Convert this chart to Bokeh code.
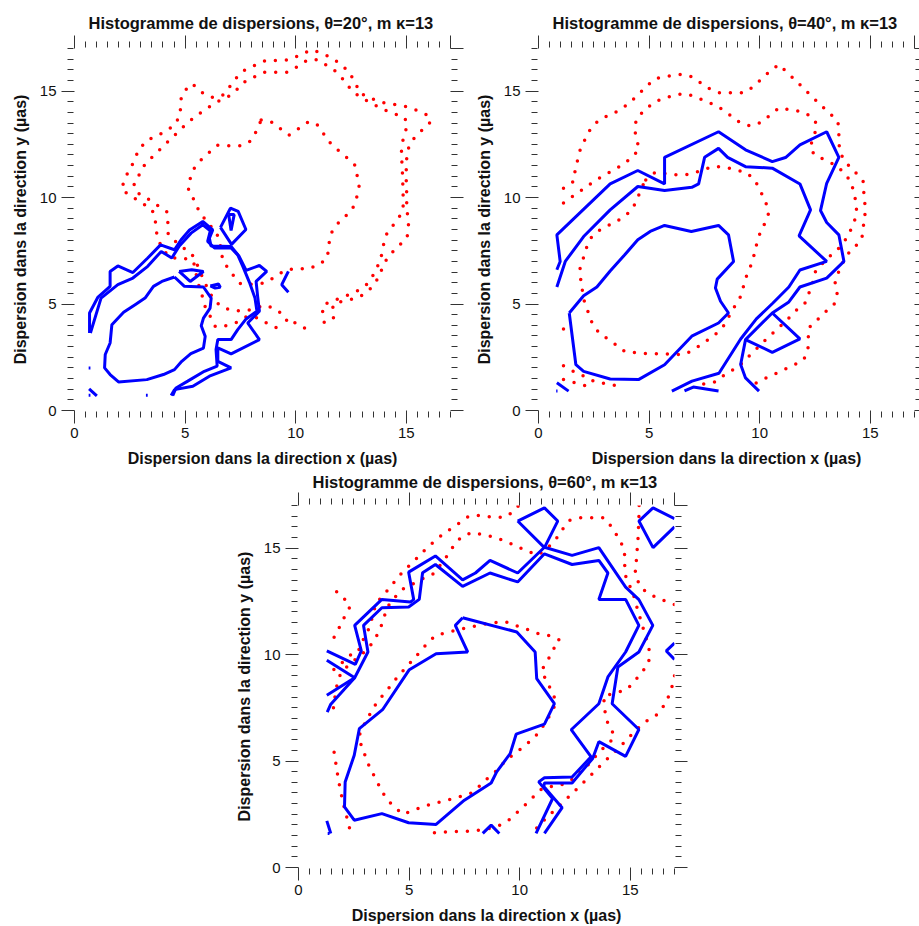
from bokeh.plotting import figure
from bokeh.models import Range1d, FixedTicker, LinearAxis
from bokeh.layouts import column, row
from bokeh.embed import file_html
from bokeh.resources import INLINE

FONT = "Liberation Sans"
MAJOR_TICKS = [0, 5, 10, 15]
EDGE_TICKS = [0, 5, 10, 15, 17]
MINOR_TICKS = [i * 0.5 for i in range(1, 34) if (i * 0.5) % 5 != 0]
X_LABEL = "Dispersion dans la direction x (µas)"
Y_LABEL = "Dispersion dans la direction y (µas)"
TITLES = ["Histogramme de dispersions, θ=20°, m ᴋ=13",
          "Histogramme de dispersions, θ=40°, m ᴋ=13",
          "Histogramme de dispersions, θ=60°, m ᴋ=13"]

# ---------------- panel 1 (theta = 20) ----------------
P1_RED_OUTER_A = [(6.36,3.96),(6.13,4.43),(5.88,4.93),(5.76,5.44),(5.6,5.94),(5.48,6.49),(5.38,7.0),(4.93,7.16),(4.4,7.16),(4.07,7.47),(3.8,7.97),(3.68,8.49),(3.65,8.99),(3.5,9.45),(3.04,9.74),(2.59,10.05),(2.14,10.36),(2.23,10.78),(2.45,11.25),(2.71,11.73),(2.86,12.16),(3.24,12.67),(3.72,12.9),(4.22,13.16),(4.6,13.51),(4.79,13.98),(4.78,14.52),(4.94,14.97),(5.32,15.35),(5.72,14.96),(6.18,14.71),(6.67,14.77),(7.0,15.18),(7.33,15.63),(7.7,15.99),(8.18,16.22),(8.66,16.44),(9.19,16.44),(9.72,16.47),(10.21,16.7),(10.7,16.94),(11.18,16.78),(11.64,16.55),(12.1,16.22),(12.46,15.83),(12.7,15.36),(12.94,14.89),(13.41,14.66),(13.9,14.47),(14.43,14.38),(14.96,14.28),(15.49,14.09),(15.97,13.86),(16.12,13.57),(15.74,13.19),(15.36,12.8),(15.11,12.35),(15.02,11.83),(15.0,11.3),(15.0,10.73),(15.02,10.2),(15.02,9.67),(15.06,9.14),(15.11,8.6),(15.03,8.1),(14.64,7.72),(14.28,7.34),(13.98,6.89),(13.81,6.39),(13.56,5.92),(13.2,5.53),(12.76,5.27),(12.23,5.16),(11.72,5.02),(11.63,4.61),(11.78,4.11)]
P1_RED_OUTER_B = [(10.4,3.87),(9.93,4.14),(9.67,4.06),(9.49,4.45),(9.07,4.78),(8.6,4.95),(8.09,4.76),(7.61,4.67),(7.11,4.70),(6.62,4.89),(6.28,5.24),(6.03,5.7),(5.8,6.22),(5.6,6.72),(5.38,7.24),(5.0,7.58),(4.58,7.92),(4.22,8.33),(4.22,8.83),(4.17,9.34),(3.72,9.66),(3.27,9.97),(2.82,10.24),(2.68,10.67),(2.94,11.09),(3.19,11.58),(3.57,11.96),(3.96,12.35),(4.34,12.74),(4.71,13.11),(5.09,13.49),(5.5,13.84),(5.92,14.14),(6.39,14.47),(6.89,14.69),(7.28,15.0),(7.61,15.39),(8.11,15.66),(8.59,15.89),(9.12,15.89),(9.66,15.89),(10.11,16.17),(10.55,16.47),(11.0,16.47),(11.46,16.17),(11.9,15.86),(12.23,15.44),(12.55,15.0),(12.95,14.69),(13.44,14.42),(13.91,14.16),(14.4,13.95),(14.91,13.78),(15.06,13.44),(14.91,12.94),(14.78,12.39),(14.79,11.88),(14.82,11.33),(14.84,10.8),(14.85,10.25),(14.88,9.69),(14.76,9.21),(14.46,8.77),(14.13,8.33),(13.98,7.82),(13.89,7.32),(13.71,6.79),(13.47,6.29),(13.18,5.88),(12.73,5.58),(12.21,5.36),(11.72,5.16),(11.22,4.95),(11.22,4.48),(11.33,3.95)]
P1_RED_OUTER_C = [(6.84,3.98),(7.34,4.14),(7.82,4.43),(8.29,4.35),(8.7,4.1),(9.16,3.87)]
P1_RED_INNER = [(8.44,13.64),(8.84,13.6),(9.26,13.27),(9.69,12.93),(10.11,13.22),(10.54,13.53),(10.92,13.5),(11.22,13.06),(11.52,12.61),(11.91,12.23),(12.31,11.88),(12.7,11.5),(12.79,10.97),(12.88,10.44),(12.73,9.92),(12.55,9.41),(12.17,9.05),(11.8,8.67),(11.54,8.2),(11.5,7.67),(11.42,7.14),(11.0,6.81),(10.51,6.64),(10.0,6.67),(9.49,6.57),(9.06,6.26),(8.58,5.98),(8.06,5.93),(7.52,5.94),(7.34,6.14),(7.01,6.58),(6.71,7.03),(6.62,7.55),(6.55,8.08),(6.28,8.51),(5.95,8.92),(5.63,9.36),(5.42,9.86),(5.15,10.33),(5.2,10.8),(5.38,11.33),(5.7,11.75),(6.07,12.1),(6.48,12.46),(6.99,12.43),(7.53,12.43),(8.0,12.68),(8.24,13.16),(8.44,13.64)]

P1_BLUE_INNER = [(4.52,6.27),(4.97,5.83),(5.83,5.80),(6.18,5.28),(6.13,4.81),(5.83,4.34),(5.73,3.98),(5.91,3.48),(5.83,2.93),(5.26,2.67),(4.85,2.31),(4.52,1.92),(4.02,1.69),(3.27,1.45),(1.99,1.34),(1.61,1.69),(1.36,2.0),(1.39,2.63),(1.61,3.17),(1.69,4.03),(2.22,4.61),(2.74,4.97),(3.19,5.28),(3.57,5.83),(3.95,6.06),(4.52,6.27)]
P1_BLUE_OUTER_A = [(0.68,3.64),(0.68,4.58),(1.05,5.31),(1.61,5.83),(1.61,6.53),(1.96,6.79),(2.64,6.48),(3.31,7.16),(3.89,7.78),(4.52,7.55),(4.82,8.02),(5.2,8.48),(5.8,8.88),(6.25,8.48),(6.1,8.09),(6.17,7.73),(7.08,7.70),(7.45,7.23),(7.76,6.58),(8.36,6.81),(8.69,6.53),(8.21,6.06),(8.28,5.36),(8.36,4.66),(7.83,4.11),(8.36,3.33),(7.08,2.66),(6.48,2.94),(6.48,2.31),(7.08,2.0),(6.1,1.61),(5.35,1.14),(4.52,0.98),(4.37,0.70)]
P1_BLUE_OUTER_B = [(0.72,3.64),(1.2,5.28),(1.96,5.91),(2.64,6.22),(3.31,6.77),(3.92,7.47),(4.4,7.16),(4.74,7.73),(5.27,8.33),(5.8,8.72),(6.14,8.44),(6.02,7.94),(6.33,7.63),(7.08,7.63),(7.38,7.31),(7.61,6.77),(7.91,6.02),(8.16,5.28),(8.25,4.66),(7.76,4.30),(7.38,3.8),(7.08,3.33),(6.48,3.33),(6.4,2.86),(6.45,2.08),(5.87,1.84),(5.12,1.38),(4.59,1.06),(4.44,0.70)]
P1_BLUE_SPIKE = [(6.6,8.6),(7.05,9.5),(7.4,9.35),(7.75,8.5),(7.1,7.8),(6.6,8.6)]
P1_BLUE_NOTCH = [(6.97,9.2),(7.08,8.45),(7.22,9.2),(6.97,9.2)]
P1_BLUE_SMALL = [(4.73,6.53),(5.23,6.06),(5.83,6.53),(5.30,6.61),(4.73,6.53)]
P1_BLUE_TINY = [(6.14,5.85),(6.51,5.94),(6.59,5.79),(6.36,5.75),(6.14,5.85)]
P1_BLUE_CHEVRON = [(9.67,6.53),(9.37,5.91),(9.67,5.55)]
P1_BLUE_EDGE = [(0.66,1.02),(1.01,0.69)]
P1_BLUE_DOT_A = [(0.64,2.0),(0.72,2.0)]
P1_BLUE_DOT_B = [(0.64,0.72),(0.72,0.72)]
P1_BLUE_DOT_C = [(3.23,0.72),(3.31,0.72)]

# ---------------- panel 2 (theta = 40) ----------------
P2_RED_OUTER_A = [(1.13,10.44),(1.58,10.75),(1.66,11.3),(1.78,11.81),(1.9,12.31),(2.14,12.8),(2.38,13.28),(2.74,13.64),(3.23,13.89),(3.71,14.12),(4.13,14.47),(4.52,14.84),(4.85,15.2),(5.28,15.59),(5.82,15.7),(6.35,15.78),(6.84,15.72),(7.3,15.41),(7.75,15.1),(8.22,14.91),(8.76,14.92),(9.29,14.92),(9.71,15.2),(10.12,15.6),(10.49,15.96),(10.87,16.25),(11.25,15.86),(11.64,15.49),(12.02,15.09),(12.38,14.73),(12.77,14.33),(13.16,13.97),(13.54,13.56),(13.58,13.05),(13.58,12.52),(13.69,12.0),(13.96,11.58),(14.34,11.17),(14.68,10.75),(14.71,10.21),(14.76,9.67),(14.76,9.14),(14.68,8.6),(14.62,8.07),(14.29,7.66),(13.92,7.28),(13.6,6.6),(13.4,5.95),(13.51,5.44),(13.36,4.97),(12.95,4.61),(12.57,4.22),(12.2,3.86),(12.2,3.33),(12.18,2.78),(11.97,2.36),(11.52,2.13),(11.02,1.88),(10.54,1.64),(10.04,1.41),(9.59,1.14)]
P2_RED_OUTER_B = [(1.13,9.74),(1.58,10.08),(2.0,10.38),(2.44,10.71),(2.86,10.99),(3.35,11.27),(3.83,11.55),(4.22,11.88),(4.55,12.27),(4.43,12.77),(4.33,13.28),(4.46,13.75),(4.82,14.12),(5.22,14.48),(5.71,14.67),(6.23,14.84),(6.75,14.86),(7.25,14.66),(7.75,14.45),(8.23,14.19),(8.65,13.88),(9.07,13.55),(9.56,13.36),(10.04,13.52),(10.46,13.86),(10.87,14.21),(11.4,14.11),(11.93,14.03),(12.38,13.77),(12.6,13.41),(12.45,12.86),(12.27,12.36),(12.48,12.0),(12.94,11.77),(13.43,11.52),(13.81,11.17),(14.14,10.72),(14.26,10.2),(14.38,9.69),(14.37,9.15),(14.19,8.64),(13.96,8.14),(13.66,7.7),(13.28,7.35),(12.9,6.97),(12.53,6.56),(12.41,6.03),(12.23,5.52),(12.05,5.05),(11.65,4.7),(11.28,4.3),(10.88,3.9),(10.49,3.53),(10.1,3.15),(9.74,2.78),(9.36,2.39),(8.98,2.0),(8.5,1.76),(8.08,1.37),(7.57,1.26),(7.06,1.16)]
P2_RED_INNER = [(4.85,10.83),(5.28,11.19),(5.82,11.11),(6.35,11.06),(6.87,11.09),(7.36,11.27),(7.87,11.46),(8.38,11.43),(8.94,11.3),(9.44,11.15),(9.81,10.76),(10.04,10.29),(10.27,9.79),(10.42,9.31),(10.24,8.81),(10.01,8.31),(9.86,7.8),(9.74,7.28),(9.59,6.78),(9.41,6.33),(9.26,5.8),(9.11,5.29),(8.83,4.82),(8.55,4.3),(8.3,3.85),(7.93,3.52),(7.51,3.2),(7.06,2.89),(6.6,2.63),(6.06,2.64),(5.53,2.66),(4.98,2.67),(4.46,2.71),(3.92,2.75),(3.59,3.02),(3.17,3.33),(2.74,3.64),(2.44,4.06),(2.26,4.58),(2.08,5.08),(1.99,5.59),(1.91,6.14),(1.88,6.67),(2.04,7.2),(2.19,7.71),(2.41,8.17),(2.83,8.52),(3.32,8.77),(3.77,9.03),(4.19,9.39),(4.46,9.89),(4.61,10.36),(4.85,10.83)]
P2_RED_LOW_A = [(1.13,2.1),(1.58,1.84),(2.11,1.58),(2.56,1.34),(3.09,1.25),(3.62,1.14)]
P2_RED_LOW_B = [(1.13,1.46),(1.66,1.3),(2.19,1.14)]
P2_RED_DOT = [(1.13,3.83),(1.13,3.84)]

P2_BLUE_INNER = [(1.39,4.58),(2.04,5.39),(2.64,5.8),(3.24,6.55),(3.89,7.3),(4.49,8.02),(5.05,8.41),(5.7,8.69),(6.91,8.41),(8.14,8.69),(8.59,8.25),(8.82,7.0),(8.08,6.17),(8.0,5.75),(8.23,5.13),(8.59,4.58),(8.14,4.11),(6.93,3.49),(5.7,2.15),(4.52,1.45),(3.24,1.48),(2.04,1.84),(1.69,2.15),(1.39,4.58)]
P2_BLUE_OUTER_A = [(0.83,6.61),(0.98,7.0),(0.83,8.25),(3.24,10.64),(4.49,11.27),(5.7,10.64),(5.7,11.89),(8.14,13.09),(9.36,12.24),(10.57,11.69),(11.17,11.88),(11.82,12.47),(13.03,13.09),(13.58,11.89),(13.03,10.67),(12.75,9.39),(13.03,8.83),(13.58,8.25),(13.81,7.0),(13.03,6.22),(11.82,5.8),(11.32,5.1),(10.57,4.58),(9.36,3.33),(9.14,2.16),(9.36,1.53),(9.97,0.91)]
P2_BLUE_OUTER_B = [(0.83,5.8),(1.21,7.0),(2.04,8.17),(3.24,9.42),(4.49,10.52),(5.7,10.33),(6.93,10.48),(7.24,10.64),(7.51,11.89),(8.14,12.31),(8.55,11.89),(9.36,11.45),(10.57,11.38),(11.82,10.64),(12.3,9.42),(11.78,8.2),(13.03,7.0),(11.82,6.6),(11.32,5.8),(10.6,5.05),(9.85,4.3),(9.14,3.36),(8.16,1.75),(6.94,1.38),(6.03,0.91)]
P2_BLUE_DIAMOND = [(10.57,4.58),(11.82,3.36),(10.57,2.73),(9.36,3.33)]
P2_BLUE_BOTTOM = [(6.6,0.92),(7.0,1.1),(8.14,0.92)]
P2_BLUE_EDGE = [(0.83,1.3),(1.36,0.91)]
P2_BLUE_DOT = [(0.8,0.91),(0.86,0.91)]

# ---------------- panel 3 (theta = 60) ----------------
P3_RED_INNER = [(11.77,10.7),(11.42,10.87),(10.86,10.98),(10.37,11.17),(9.87,11.35),(9.34,11.55),(8.81,11.49),(8.3,11.42),(7.77,11.29),(7.24,11.17),(6.71,11.03),(6.19,10.9),(5.81,10.51),(5.46,10.09),(5.13,9.7),(4.77,9.29),(4.42,8.87),(4.1,8.45),(3.74,8.0),(3.44,7.59),(3.17,7.1),(2.91,6.6),(2.72,6.13),(2.87,5.63),(3.06,5.13),(3.24,4.63),(3.5,4.16),(3.73,3.65),(4.01,3.18),(4.38,2.81),(4.71,2.5),(5.21,2.69),(5.7,2.88),(6.22,3.03),(6.73,3.16),(7.24,3.31),(7.77,3.47),(8.18,3.82),(8.56,4.2),(8.97,4.56),(9.31,4.96),(9.72,5.32),(10.14,5.63),(10.56,6.01),(10.92,6.4),(11.17,6.84),(11.47,7.31),(11.65,7.78),(11.45,8.28),(11.19,8.79),(10.99,9.26),(11.27,9.73),(11.5,10.2),(11.77,10.7)]
P3_RED_LEFT_TOP = [(1.61,10.81),(1.86,11.3),(2.08,11.77),(2.34,12.27),(2.04,12.66),(1.63,13.04)]
P3_RED_OUTER_A = [(1.6,9.3),(2.0,9.65),(2.38,10.0),(2.69,10.1),(2.79,10.4),(3.02,10.9),(3.24,11.33),(3.35,11.84),(3.5,12.39),(3.85,12.81),(4.18,13.2),(4.5,13.64),(4.86,14.03),(5.25,14.42),(5.61,14.81),(6.01,15.2),(6.41,15.55),(6.82,15.86),(7.29,16.19),(7.71,16.5),(8.21,16.53),(8.78,16.45),(9.31,16.45),(9.76,16.74),(9.95,17.0)]
P3_RED_OUTER_A2 = [(15.4,17.0),(15.39,16.4),(15.35,15.44),(15.31,14.9),(15.27,14.35),(15.22,13.8),(15.42,13.25),(15.72,12.93),(16.2,12.67),(16.7,12.47),(17.0,12.35)]
P3_RED_OUTER_A3 = [(17.0,9.0),(16.85,8.33),(16.6,7.72),(16.25,7.2),(15.84,6.96),(15.42,6.61),(15.04,6.22),(14.7,5.85),(14.33,5.46),(13.91,5.05),(13.53,4.66),(13.16,4.27),(12.78,3.89),(12.4,3.5),(12.03,3.13),(11.65,2.76),(11.28,2.4),(10.87,1.97),(10.6,1.65)]
P3_RED_OUTER_B = [(1.58,7.5),(1.66,8.1),(1.74,8.57),(1.9,9.1),(2.3,9.55),(2.8,9.95),(3.2,10.35),(3.47,10.75),(3.7,11.22),(3.85,11.68),(4.0,12.2),(4.33,12.66),(4.68,13.06),(5.15,13.3),(5.61,13.56),(6.11,13.8),(6.45,14.25),(6.75,14.68),(7.03,15.13),(7.36,15.52),(7.85,15.73),(8.37,15.63),(8.9,15.49),(9.38,15.31),(9.88,15.08),(10.37,14.84),(10.85,14.68),(11.25,15.0),(11.62,15.39),(11.92,15.86),(12.25,16.3),(12.74,16.42),(13.26,16.42),(13.81,16.42),(14.14,16.02),(14.4,15.59),(14.64,15.13),(14.75,14.66),(14.75,14.11),(14.82,13.49),(15.09,13.02),(15.25,12.4),(15.45,11.7),(15.65,11.0),(15.85,10.3),(15.84,9.6),(15.4,9.0),(14.85,8.35),(14.32,8.2),(13.79,8.04),(13.85,7.5),(13.88,6.99),(14.14,6.52),(14.29,6.1),(13.88,5.71),(13.5,5.3),(13.08,4.8),(12.65,4.4),(12.25,4.03),(11.8,3.85),(11.4,3.8),(11.04,3.74),(10.66,3.36),(10.28,2.97),(9.91,2.61),(9.53,2.25),(9.1,1.99),(8.57,1.81),(8.04,1.74),(7.51,1.69),(6.97,1.69),(6.44,1.66),(5.88,1.61)]
P3_RED_LOW_LEFT = [(1.61,5.41),(1.69,4.88),(1.77,4.34),(1.86,3.81),(1.96,3.31),(2.08,2.77),(2.22,2.22),(2.34,1.71)]

P3_BLUE_INNER = [(7.42,11.73),(7.09,11.37),(7.65,10.12),(6.22,10.04),(5.01,9.29),(3.8,7.41),(2.75,6.52),(2.52,5.27),(2.11,4.02),(2.08,2.85),(2.52,2.22),(3.77,2.53),(4.98,2.1),(6.22,2.02),(7.5,3.16),(8.71,3.97),(8.96,4.49),(9.57,5.35),(9.84,6.26),(11.12,6.73),(11.57,7.7),(10.77,8.87),(10.7,10.12),(9.87,11.06),(7.42,11.73)]
P3_BLUE_OUTER_A = [(1.28,10.17),(2.57,9.54),(2.84,10.17),(2.54,11.37),(3.77,12.59),(5.06,12.47),(5.21,12.58),(4.98,13.87),(6.19,14.63),(7.42,13.51),(8.0,13.83),(8.66,14.42),(9.91,13.83),(11.12,15.04),(12.37,14.66),(13.58,15.02),(14.79,13.17),(15.39,12.58),(16.02,11.37),(15.39,10.12),(14.44,9.42),(14.18,7.69),(15.39,6.48),(14.79,5.22),(13.58,5.91),(13.3,5.12),(12.37,3.97),(11.12,3.97),(11.09,3.81),(11.92,2.81),(11.12,1.6)]
P3_BLUE_OUTER_B = [(1.3,7.3),(1.45,7.65),(2.54,8.91),(3.14,10.12),(2.94,11.37),(3.77,12.2),(4.98,12.23),(5.46,12.59),(5.61,13.84),(6.19,14.23),(7.42,13.2),(8.66,13.83),(9.91,13.41),(11.12,14.73),(12.37,14.23),(13.58,14.42),(13.99,13.83),(13.58,12.59),(14.79,12.59),(15.39,11.37),(14.79,10.12),(13.99,8.95),(13.58,7.69),(12.33,6.47),(13.23,5.2),(12.37,4.25),(11.12,4.21),(10.86,4.02),(11.49,3.24),(10.74,1.6)]
P3_BLUE_VEE = [(1.28,9.73),(2.54,8.91),(1.28,8.09)]
P3_BLUE_DIAMOND = [(9.91,16.27),(11.12,16.89),(11.72,16.27),(11.12,15.02),(9.91,16.27)]
P3_BLUE_CORNER = [(17.0,16.38),(16.03,16.89),(15.39,16.27),(16.03,15.02),(17.0,16.0)]
P3_BLUE_EDGE_R = [(17.0,10.54),(16.63,10.17),(17.0,9.77)]
P3_BLUE_PEAK = [(8.33,1.6),(8.71,1.99),(9.08,1.6)]
P3_BLUE_EDGE_L = [(1.28,2.19),(1.46,1.6)]
P3_BLUE_DOT = [(1.32,1.6),(1.4,1.6)]

PANELS = [
    dict(title=TITLES[0],
         red=[P1_RED_OUTER_A, P1_RED_OUTER_B, P1_RED_OUTER_C, P1_RED_INNER],
         blue=[P1_BLUE_INNER, P1_BLUE_OUTER_A, P1_BLUE_OUTER_B, P1_BLUE_SPIKE, P1_BLUE_NOTCH,
               P1_BLUE_SMALL, P1_BLUE_TINY, P1_BLUE_CHEVRON, P1_BLUE_EDGE, P1_BLUE_DOT_A,
               P1_BLUE_DOT_B, P1_BLUE_DOT_C]),
    dict(title=TITLES[1],
         red=[P2_RED_OUTER_A, P2_RED_OUTER_B, P2_RED_INNER, P2_RED_LOW_A, P2_RED_LOW_B, P2_RED_DOT],
         blue=[P2_BLUE_INNER, P2_BLUE_OUTER_A, P2_BLUE_OUTER_B, P2_BLUE_DIAMOND, P2_BLUE_BOTTOM,
               P2_BLUE_EDGE, P2_BLUE_DOT]),
    dict(title=TITLES[2],
         red=[P3_RED_INNER, P3_RED_LEFT_TOP, P3_RED_OUTER_A, P3_RED_OUTER_A2, P3_RED_OUTER_A3,
              P3_RED_OUTER_B, P3_RED_LOW_LEFT],
         blue=[P3_BLUE_INNER, P3_BLUE_OUTER_A, P3_BLUE_OUTER_B, P3_BLUE_VEE, P3_BLUE_DIAMOND,
               P3_BLUE_CORNER, P3_BLUE_EDGE_R, P3_BLUE_PEAK, P3_BLUE_EDGE_L, P3_BLUE_DOT]),
]


def style_axis(ax, labelled, tick_out=13, minor_out=7):
    ax.axis_line_color = None
    ax.major_tick_line_color = "#333333"
    ax.minor_tick_line_color = "#333333"
    ax.major_tick_in = 0
    ax.major_tick_out = tick_out
    ax.minor_tick_in = -1
    ax.minor_tick_out = minor_out
    if labelled:
        ax.ticker = FixedTicker(ticks=MAJOR_TICKS, minor_ticks=MINOR_TICKS + [17])
        ax.major_label_text_font = FONT
        ax.major_label_text_font_size = "15px"
        ax.major_label_text_color = "#111111"
    else:
        ax.ticker = FixedTicker(ticks=EDGE_TICKS, minor_ticks=MINOR_TICKS)
        ax.major_label_text_font_size = "0px"
        ax.major_label_text_color = None
        ax.major_label_standoff = 0


def make_panel(spec, width, height, bl, bt, br, bb, right_tick, title_standoff):
    p = figure(width=width, height=height, x_range=Range1d(0, 17), y_range=Range1d(0, 17),
               output_backend="svg", toolbar_location=None,
               min_border_left=bl, min_border_top=bt, min_border_right=br, min_border_bottom=bb)
    p.outline_line_color = None
    p.xgrid.grid_line_color = None
    p.ygrid.grid_line_color = None

    p.title.text = spec["title"]
    p.title.align = "left"
    p.title.offset = 14
    p.title.standoff = title_standoff
    p.title.text_font = FONT
    p.title.text_font_style = "bold"
    p.title.text_font_size = "16.5px"
    p.title.text_color = "#111111"

    xa = p.xaxis[0]
    ya = p.yaxis[0]
    style_axis(xa, True)
    style_axis(ya, True)
    xa.major_label_standoff = 4
    ya.major_label_standoff = 5
    for ax, lab, st in ((xa, X_LABEL, 9), (ya, Y_LABEL, 8)):
        ax.axis_label = lab
        ax.axis_label_text_font = FONT
        ax.axis_label_text_font_style = "bold"
        ax.axis_label_text_font_size = "16px"
        ax.axis_label_text_color = "#111111"
        ax.axis_label_standoff = st

    top = LinearAxis()
    style_axis(top, False)
    p.add_layout(top, "above")
    right = LinearAxis()
    style_axis(right, False, tick_out=right_tick, minor_out=min(7, right_tick))
    p.add_layout(right, "right")

    p.multi_line([[pt[0] for pt in c] for c in spec["red"]],
                 [[pt[1] for pt in c] for c in spec["red"]],
                 line_color="#ff0000", line_width=3.5, line_dash="0 11", line_cap="round")
    p.multi_line([[pt[0] for pt in c] for c in spec["blue"]],
                 [[pt[1] for pt in c] for c in spec["blue"]],
                 line_color="#0000ff", line_width=3)
    return p


p1 = make_panel(PANELS[0], 466, 469, 74, 48, 16, 58, 13, 7)
p2 = make_panel(PANELS[1], 453, 469, 72, 48, 5, 58, 5, 7)
p3 = make_panel(PANELS[2], 694, 457, 298, 36, 20, 58, 13, 3)

layout = column(row(p1, p2), p3)
open("out.html", "w").write(file_html(layout, INLINE))
